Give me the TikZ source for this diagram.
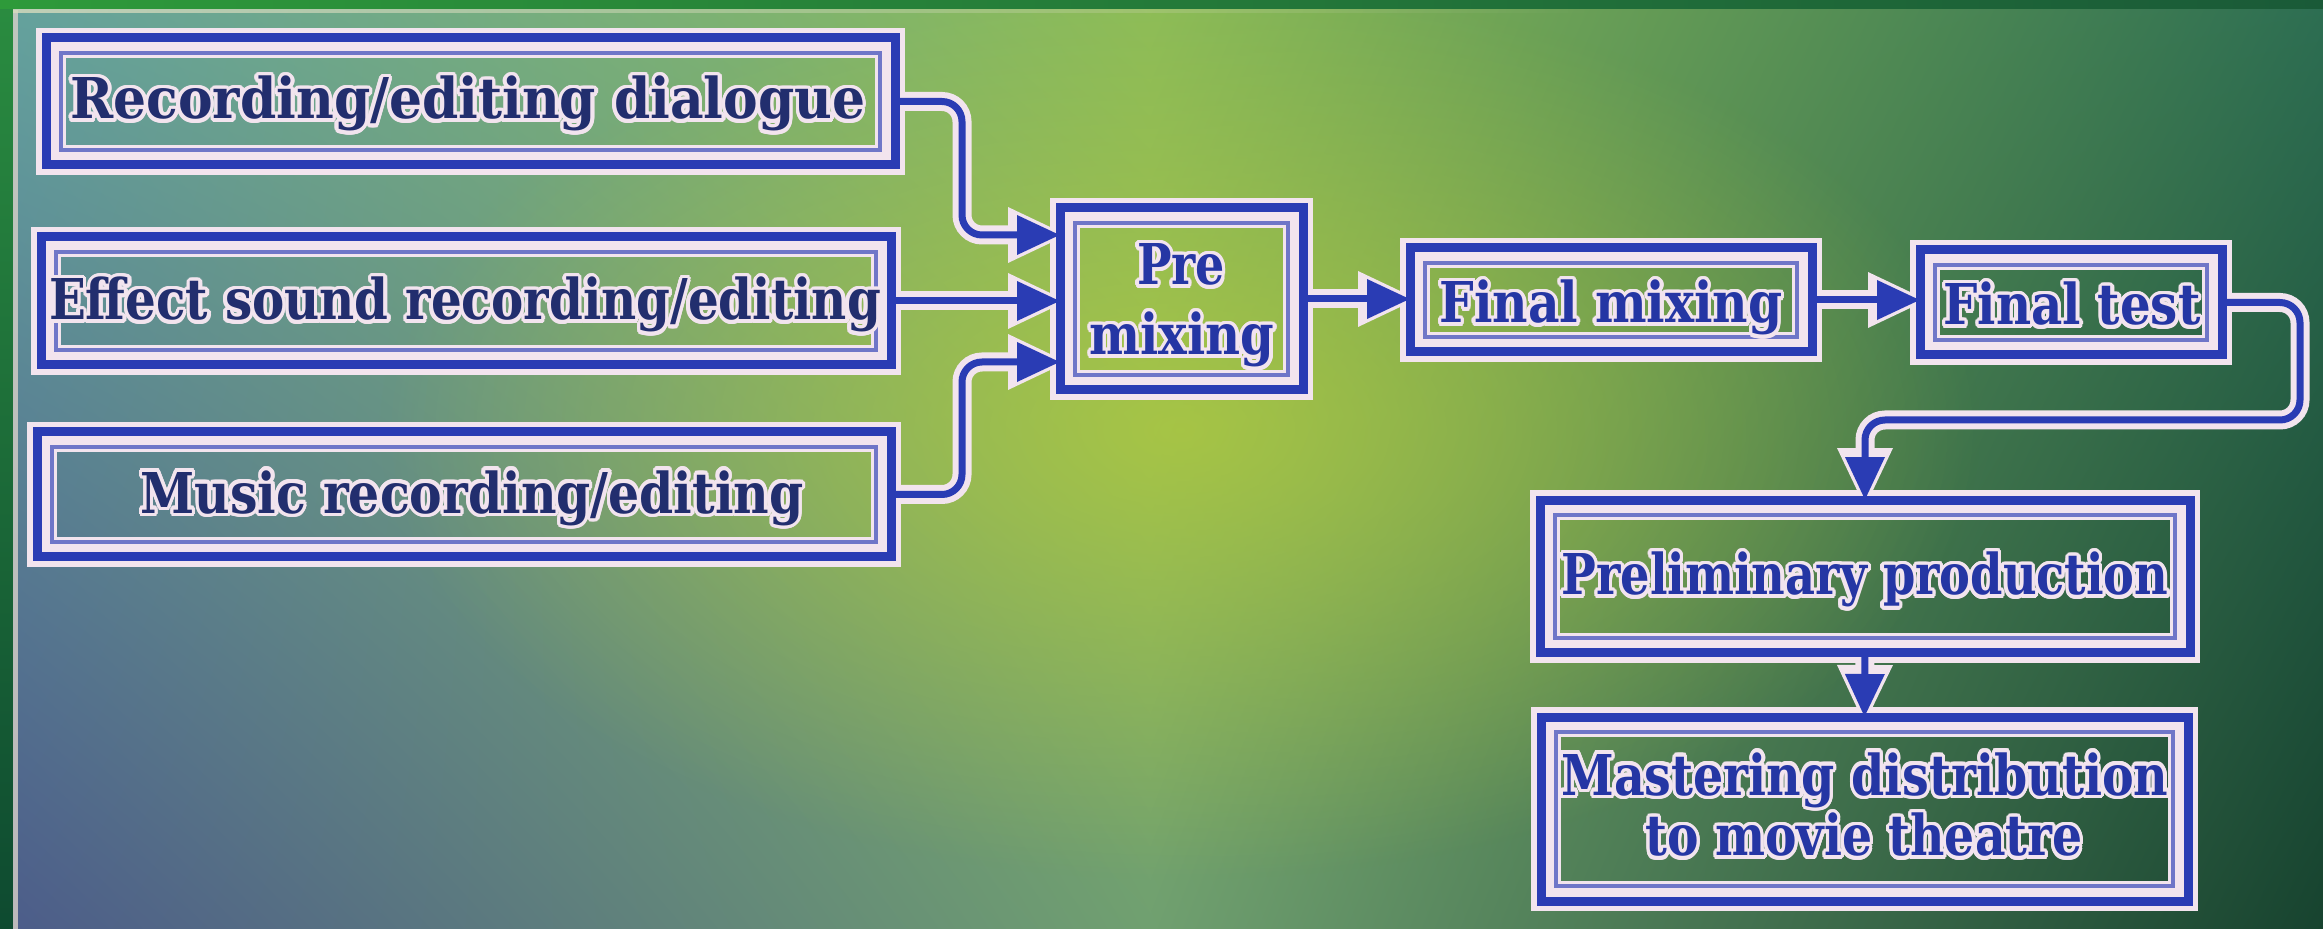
\documentclass[tikz,border=0pt]{standalone}
\usepackage{fontspec}
\setmainfont{DejaVu Serif}
\usepackage{graphicx}
\usepackage{contour}
\usetikzlibrary{arrows.meta,fadings,shadings,calc}
\tikzfading[name=glowfade, inner color=transparent!0, outer color=transparent!100]
\tikzfading[name=fadeRight, left color=transparent!20, right color=transparent!100]
\definecolor{halo}{HTML}{F2E4EE}
\definecolor{lblue}{HTML}{2A3CB4}
\definecolor{tdark}{HTML}{222E6E}
\definecolor{tblue}{HTML}{2536A4}
\definecolor{hl}{HTML}{B4CC3C}
\definecolor{bgUL}{RGB}{100,162,158}
\definecolor{bgUM}{RGB}{140,188,88}
\definecolor{bgLL}{RGB}{76,92,138}
\definecolor{bgLM}{RGB}{112,160,112}
\definecolor{bgUR}{RGB}{45,110,82}
\definecolor{bgLR}{RGB}{23,67,47}
\definecolor{frA}{RGB}{42,140,64}
\definecolor{frB}{RGB}{14,74,48}
\definecolor{frC}{RGB}{216,208,200}
\definecolor{frD}{RGB}{46,154,58}
\definecolor{frE}{RGB}{26,90,56}
\definecolor{frF}{RGB}{216,220,190}
\contourlength{1.1pt}
\contournumber{24}
\newcommand\lbl[3]{\resizebox{#1}{\height}{\fontsize{16}{16}\selectfont\bfseries\color{#2}\contour{halo}{#3}}}
\tikzset{
  boxnode/.style={inner sep=0pt, outer sep=0pt, minimum width=#1},
  band/.style={draw=halo, line width=3mm},
  outerline/.style={draw=lblue, line width=0.9mm},
  innerline/.style={draw=lblue, draw opacity=0.65, line width=0.35mm},
  labelnode/.style={anchor=base, inner sep=0pt},
  conn/.style={draw=lblue, line width=0.7mm, rounded corners=2mm, -{Triangle[length=4.3mm,width=3.8mm]}},
  connhalo/.style={draw=halo, line width=1.9mm, rounded corners=2mm, shorten >=-0.7mm, -{Triangle[length=5.9mm,width=5.6mm,line width=0pt]}}
}
\begin{document}
\begin{tikzpicture}[x=0.1mm, y=-0.1mm]
\useasboundingbox (0,0) rectangle (2323,929);
% background
\shade[upper left=bgUL, upper right=bgUM, lower left=bgLL, lower right=bgLM] (0,0) rectangle (1150,929);
\shade[upper left=bgUM, upper right=bgUR, lower left=bgLM, lower right=bgLR] (1150,0) rectangle (2323,929);
\fill[hl, path fading=glowfade, fill opacity=0.75] (1180,430) ellipse [x radius=80mm, y radius=45mm];
% frame
\shade[top color=frA, bottom color=frB] (0,0) rectangle (13,929);
\fill[frC, fill opacity=0.8] (13,10) rectangle (18,929);
\shade[left color=frD, right color=frE] (0,0) rectangle (2323,9);
\fill[frF, path fading=fadeRight] (13,9) rectangle (1600,13);

% box nodes
\node[boxnode=84.9mm, minimum height=12.7mm] (b1) at (470.5,101.5) {};
\node[boxnode=85mm,   minimum height=12.8mm] (b2) at (466,301) {};
\node[boxnode=85.4mm, minimum height=12.5mm] (b3) at (464,494.5) {};
\node[boxnode=24.3mm, minimum height=18.2mm] (p)  at (1181.5,299) {};
\node[boxnode=40.2mm, minimum height=10.4mm] (fm) at (1611,300) {};
\node[boxnode=30.2mm, minimum height=10.5mm] (ft) at (2071,302.5) {};
\node[boxnode=65mm,   minimum height=15.3mm] (pp) at (1865,576.5) {};
\node[boxnode=64.7mm, minimum height=18.4mm] (md) at (1864.5,809) {};
\coordinate (k1) at (962,235);
\coordinate (k3) at (962,362);
\coordinate (k6) at (2300,420);

% halos
\foreach \n in {b1,b2,b3,p,fm,ft,pp,md}{
  \draw[band] ([shift={(0.5mm,-0.5mm)}]\n.north west) rectangle ([shift={(-0.5mm,0.5mm)}]\n.south east);
}
\draw[connhalo] (b1.east) -| (k1) -- (k1 -| p.west);
\draw[connhalo] (b2.east) -- (b2.east -| p.west);
\draw[connhalo] (b3.east) -| (k3) -- (k3 -| p.west);
\draw[connhalo] (p.east) -- (p.east -| fm.west);
\draw[connhalo] (fm.east) -- (fm.east -| ft.west);
\draw[connhalo] (ft.east) -| (k6) -| (pp.north);
\draw[connhalo] (pp.south) -- (md.north);

% boxes
\foreach \n in {b1,b2,b3,p,fm,ft,pp,md}{
  \draw[outerline] (\n.north west) rectangle (\n.south east);
  \draw[innerline] ([shift={(1.5mm,-1.5mm)}]\n.north west) rectangle ([shift={(-1.5mm,1.5mm)}]\n.south east);
}
% connectors
\draw[conn] (b1.east) -| (k1) -- (k1 -| p.west);
\draw[conn] (b2.east) -- (b2.east -| p.west);
\draw[conn] (b3.east) -| (k3) -- (k3 -| p.west);
\draw[conn] (p.east) -- (p.east -| fm.west);
\draw[conn] (fm.east) -- (fm.east -| ft.west);
\draw[conn] (ft.east) -| (k6) -| (pp.north);
\draw[conn] (pp.south) -- (md.north);

% labels
\node[labelnode] (t1) at (468,119) {\lbl{79.5mm}{tdark}{Recording/editing dialogue}};
\node[labelnode] (t2) at (465,320) {\lbl{83.2mm}{tdark}{Effect sound recording/editing}};
\node[labelnode] (t3) at (472,513) {\lbl{66.3mm}{tdark}{Music recording/editing}};
\node[labelnode] (tp1) at (1181,285) {\lbl{8.8mm}{tblue}{Pre}};
\node[labelnode] (tp2) at (1182,355) {\lbl{18.5mm}{tblue}{mixing}};
\node[labelnode] (tfm) at (1611,323) {\lbl{34.3mm}{tblue}{Final mixing}};
\node[labelnode] (tft) at (2072,325) {\lbl{25.7mm}{tblue}{Final test}};
\node[labelnode] (tpp) at (1865,595) {\lbl{60.7mm}{tblue}{Preliminary production}};
\node[labelnode] (tmd1) at (1865,795) {\lbl{60.7mm}{tblue}{Mastering distribution}};
\node[labelnode] (tmd2) at (1864,856) {\lbl{43.7mm}{tblue}{to movie theatre}};
\end{tikzpicture}
\end{document}
